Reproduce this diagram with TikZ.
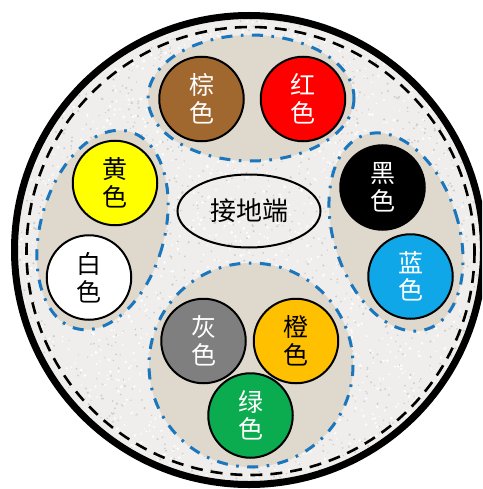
\documentclass[tikz,border=0pt]{standalone}
\usepackage{fontspec}
\usetikzlibrary{shapes.geometric}
\setmainfont{Noto Sans CJK SC}
\definecolor{ground}{HTML}{EFEEEC}
\definecolor{speckD}{HTML}{CFCDC8}
\definecolor{speckL}{HTML}{FDFDFC}
\definecolor{beige}{HTML}{DFD8CD}
\definecolor{beigeD}{HTML}{D5CDC0}
\definecolor{beigeL}{HTML}{E8E3DA}
\definecolor{groupblue}{HTML}{1A76BD}
\definecolor{cBrown}{HTML}{A0672F}
\definecolor{cRed}{HTML}{FE0000}
\definecolor{cYellow}{HTML}{FFFF00}
\definecolor{cGray}{HTML}{7F7F7F}
\definecolor{cOrange}{HTML}{FFC000}
\definecolor{cGreen}{HTML}{0BAB4F}
\definecolor{cBlue}{HTML}{0FA7E8}
\newcommand{\speckles}[3]{%
  \foreach \i in {1,...,#1}{%
    \pgfmathsetmacro{\px}{rnd*482}%
    \pgfmathsetmacro{\py}{rnd*489}%
    \pgfmathsetmacro{\pr}{#3+rnd*#3}%
    \fill[#2] (\px,\py) circle[radius=\pr];%
  }}
\tikzset{
  x=1pt,y=-1pt,
  corewire/.style={circle,draw=black,line width=2pt,minimum size=84.5pt,inner sep=0pt,
    font=\fontsize{25}{27.5}\selectfont,align=center},
  groupline/.style={draw=groupblue,line width=3pt,dash pattern=on 11pt off 8.5pt on 2.6pt off 8.5pt},
  groupfill/.style={fill=beige},
}
\begin{document}
\begin{tikzpicture}
\useasboundingbox (0,0) rectangle (482,489);
\clip (0,0) rectangle (482,489);
\fill[white] (0,0) rectangle (482,489);
% textured filler
\begin{scope}
\clip (249,250) circle[radius=236];
\fill[ground] (0,0) rectangle (482,489);
\pgfmathsetseed{4217}
\speckles{2000}{speckD}{0.6}
\speckles{2000}{speckL}{0.8}
\end{scope}
% beige groups
\fill[groupfill] (251,98) ellipse[x radius=103,y radius=63];
\fill[groupfill] (251,365) circle[radius=102];
\fill[groupfill,rotate around={-15.4:(102.5,230)}] (102.5,230) ellipse[x radius=62,y radius=102];
\fill[groupfill,rotate around={17.5:(396,232)}] (396,232) ellipse[x radius=62.5,y radius=102];
% outer sheath and screen
\draw[black,line width=7pt] (249,250) circle[radius=234.5];
\draw[black,line width=2.6pt,dash pattern=on 12pt off 8pt] (250.5,251) circle[radius=224];
% group outlines
\draw[groupline] (251,98) ellipse[x radius=103,y radius=63];
\draw[groupline] (251,365) circle[radius=102];
\draw[groupline,rotate around={-15.4:(102.5,230)}] (102.5,230) ellipse[x radius=62,y radius=102];
\draw[groupline,rotate around={17.5:(396,232)}] (396,232) ellipse[x radius=62.5,y radius=102];
% cores
\node[corewire,fill=cBrown,text=white] (brown) at (201.5,99) {棕\\色};
\node[corewire,fill=cRed,text=white] (red) at (303,99) {红\\色};
\node[corewire,fill=cYellow,text=black] (yellow) at (115,183) {黄\\色};
\node[corewire,fill=white,text=black] (whitecore) at (89,277.5) {白\\色};
\node[corewire,fill=black,text=white] (blackcore) at (382.5,187.5) {黑\\色};
\node[corewire,fill=cBlue,text=white] (blue) at (410.5,276.5) {蓝\\色};
\node[corewire,fill=cGray,text=white] (gray) at (203.5,341) {灰\\色};
\node[corewire,fill=cOrange,text=black] (orange) at (296,341) {橙\\色};
\node[corewire,fill=cGreen,text=white] (green) at (250.5,415.5) {绿\\色};
% earth conductor
\node[ellipse,draw=black,line width=2pt,minimum width=143pt,minimum height=73pt,inner sep=0pt,
  font=\fontsize{26}{30}\selectfont] (earth) at (249,211) {接地端};
\end{tikzpicture}
\end{document}
